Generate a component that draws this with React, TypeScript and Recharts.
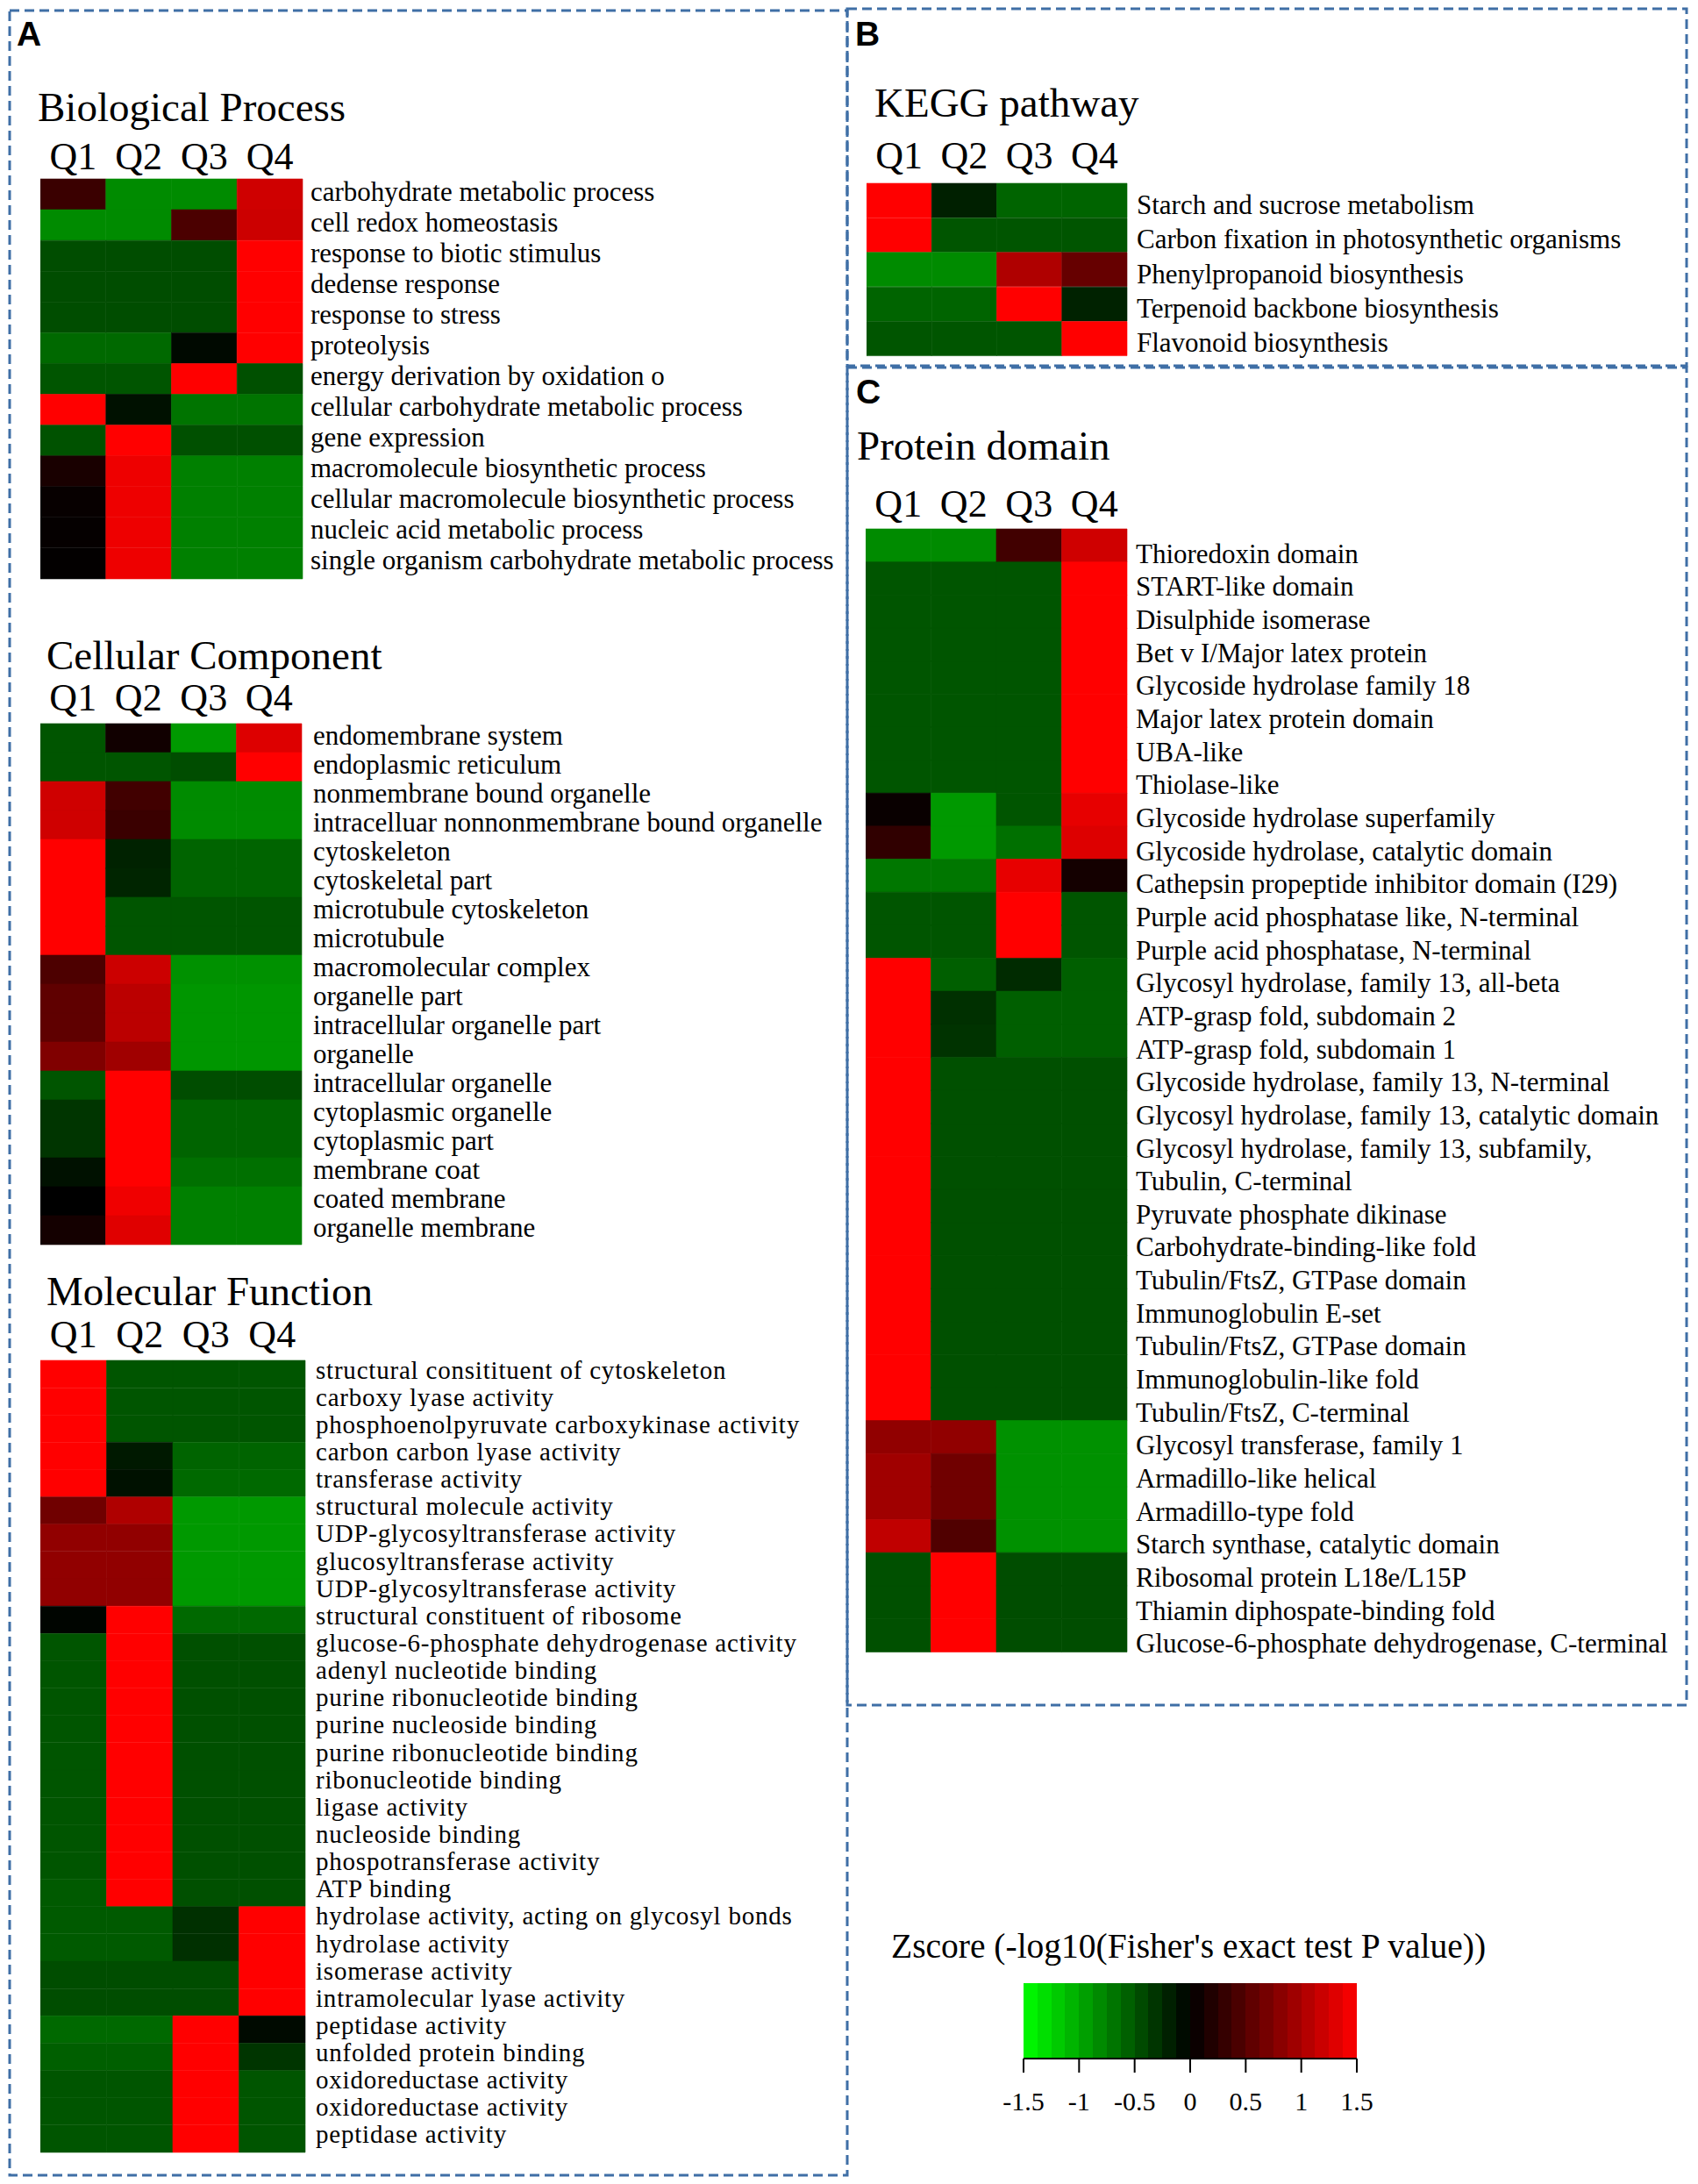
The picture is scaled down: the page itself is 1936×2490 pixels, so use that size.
import React from 'react';
import { BarChart, Bar, Cell, XAxis, YAxis, ComposedChart, Line, ReferenceArea } from 'recharts';

const quarters = ['Q1', 'Q2', 'Q3', 'Q4'];

const bpTerms = [
  'carbohydrate metabolic process',
  'cell redox homeostasis',
  'response to biotic stimulus',
  'dedense response',
  'response to stress',
  'proteolysis',
  'energy derivation by oxidation o',
  'cellular carbohydrate metabolic process',
  'gene expression',
  'macromolecule biosynthetic process',
  'cellular macromolecule biosynthetic process',
  'nucleic acid metabolic process',
  'single organism carbohydrate metabolic process',
];
const bpZ = [
  [0.34, -0.82, -0.82, 1.22],
  [-0.82, -0.82, 0.44, 1.2],
  [-0.45, -0.45, -0.45, 1.5],
  [-0.45, -0.45, -0.45, 1.5],
  [-0.45, -0.45, -0.45, 1.5],
  [-0.62, -0.62, -0.05, 1.5],
  [-0.5, -0.5, 1.5, -0.47],
  [1.5, -0.1, -0.68, -0.68],
  [-0.48, 1.5, -0.47, -0.47],
  [0.15, 1.4, -0.75, -0.75],
  [0.04, 1.4, -0.75, -0.75],
  [0.03, 1.4, -0.75, -0.75],
  [0.02, 1.4, -0.75, -0.75],
];

const ccTerms = [
  'endomembrane system',
  'endoplasmic reticulum',
  'nonmembrane bound organelle',
  'intracelluar nonnonmembrane bound organelle',
  'cytoskeleton',
  'cytoskeletal part',
  'microtubule cytoskeleton',
  'microtubule',
  'macromolecular complex',
  'organelle part',
  'intracellular organelle part',
  'organelle',
  'intracellular organelle',
  'cytoplasmic organelle',
  'cytoplasmic part',
  'membrane coat',
  'coated membrane',
  'organelle membrane',
];
const ccZ = [
  [-0.5, 0.1, -0.9, 1.3],
  [-0.5, -0.5, -0.45, 1.5],
  [1.22, 0.38, -0.82, -0.82],
  [1.22, 0.34, -0.82, -0.82],
  [1.5, -0.2, -0.59, -0.59],
  [1.5, -0.22, -0.59, -0.59],
  [1.5, -0.5, -0.5, -0.5],
  [1.5, -0.5, -0.5, -0.5],
  [0.45, 1.2, -0.85, -0.85],
  [0.56, 1.1, -0.88, -0.88],
  [0.56, 1.1, -0.88, -0.88],
  [0.75, 0.94, -0.88, -0.88],
  [-0.5, 1.5, -0.45, -0.45],
  [-0.31, 1.5, -0.59, -0.59],
  [-0.31, 1.5, -0.59, -0.59],
  [-0.1, 1.5, -0.66, -0.66],
  [0.0, 1.41, -0.75, -0.75],
  [0.12, 1.32, -0.75, -0.75],
];

const mfTerms = [
  'structural consitituent of cytoskeleton',
  'carboxy lyase activity',
  'phosphoenolpyruvate carboxykinase activity',
  'carbon carbon lyase activity',
  'transferase activity',
  'structural molecule activity',
  'UDP-glycosyltransferase activity',
  'glucosyltransferase activity',
  'UDP-glycosyltransferase activity',
  'structural constituent of ribosome',
  'glucose-6-phosphate dehydrogenase activity',
  'adenyl nucleotide binding',
  'purine ribonucleotide binding',
  'purine nucleoside binding',
  'purine ribonucleotide binding',
  'ribonucleotide binding',
  'ligase activity',
  'nucleoside binding',
  'phospotransferase activity',
  'ATP binding',
  'hydrolase activity, acting on glycosyl bonds',
  'hydrolase activity',
  'isomerase activity',
  'intramolecular lyase activity',
  'peptidase activity',
  'unfolded protein binding',
  'oxidoreductase activity',
  'oxidoreductase activity',
  'peptidase activity',
];
const mfZ = [
  [1.5, -0.5, -0.5, -0.5],
  [1.5, -0.5, -0.5, -0.5],
  [1.5, -0.5, -0.5, -0.5],
  [1.5, -0.15, -0.59, -0.59],
  [1.5, -0.1, -0.62, -0.62],
  [0.66, 1.03, -0.9, -0.9],
  [0.85, 0.85, -0.9, -0.9],
  [0.85, 0.85, -0.9, -0.9],
  [0.85, 0.85, -0.9, -0.9],
  [-0.03, 1.5, -0.62, -0.62],
  [-0.5, 1.5, -0.47, -0.47],
  [-0.5, 1.5, -0.47, -0.47],
  [-0.5, 1.5, -0.47, -0.47],
  [-0.5, 1.5, -0.47, -0.47],
  [-0.5, 1.5, -0.47, -0.47],
  [-0.5, 1.5, -0.47, -0.47],
  [-0.5, 1.5, -0.47, -0.47],
  [-0.5, 1.5, -0.47, -0.47],
  [-0.5, 1.5, -0.47, -0.47],
  [-0.53, 1.5, -0.47, -0.47],
  [-0.53, -0.53, -0.28, 1.5],
  [-0.53, -0.53, -0.28, 1.5],
  [-0.45, -0.45, -0.45, 1.5],
  [-0.45, -0.45, -0.45, 1.5],
  [-0.62, -0.62, 1.5, -0.06],
  [-0.56, -0.56, 1.5, -0.31],
  [-0.5, -0.5, 1.5, -0.5],
  [-0.5, -0.5, 1.5, -0.5],
  [-0.5, -0.5, 1.5, -0.5],
];

const keggTerms = [
  'Starch and sucrose metabolism',
  'Carbon fixation in photosynthetic organisms',
  'Phenylpropanoid biosynthesis',
  'Terpenoid backbone biosynthesis',
  'Flavonoid biosynthesis',
];
const keggZ = [
  [1.5, -0.19, -0.59, -0.59],
  [1.5, -0.5, -0.5, -0.5],
  [-0.82, -0.82, 1.03, 0.6],
  [-0.59, -0.59, 1.5, -0.2],
  [-0.5, -0.5, -0.5, 1.5],
];

const pdTerms = [
  'Thioredoxin domain',
  'START-like domain',
  'Disulphide isomerase',
  'Bet v I/Major latex protein',
  'Glycoside hydrolase family 18',
  'Major latex protein domain',
  'UBA-like',
  'Thiolase-like',
  'Glycoside hydrolase superfamily',
  'Glycoside hydrolase, catalytic domain',
  'Cathepsin propeptide inhibitor domain (I29)',
  'Purple acid phosphatase like, N-terminal',
  'Purple acid phosphatase, N-terminal',
  'Glycosyl hydrolase, family 13, all-beta',
  'ATP-grasp fold, subdomain 2',
  'ATP-grasp fold, subdomain 1',
  'Glycoside hydrolase, family 13, N-terminal',
  'Glycosyl hydrolase, family 13, catalytic domain',
  'Glycosyl hydrolase, family 13, subfamily,',
  'Tubulin, C-terminal',
  'Pyruvate phosphate dikinase',
  'Carbohydrate-binding-like fold',
  'Tubulin/FtsZ, GTPase domain',
  'Immunoglobulin E-set',
  'Tubulin/FtsZ, GTPase domain',
  'Immunoglobulin-like fold',
  'Tubulin/FtsZ, C-terminal',
  'Glycosyl transferase, family 1',
  'Armadillo-like helical',
  'Armadillo-type fold',
  'Starch synthase, catalytic domain',
  'Ribosomal protein L18e/L15P',
  'Thiamin diphospate-binding fold',
  'Glucose-6-phosphate dehydrogenase, C-terminal',
];
const pdZ = [
  [-0.82, -0.82, 0.38, 1.22],
  [-0.5, -0.5, -0.5, 1.5],
  [-0.5, -0.5, -0.5, 1.5],
  [-0.5, -0.5, -0.5, 1.5],
  [-0.5, -0.5, -0.5, 1.5],
  [-0.5, -0.5, -0.5, 1.5],
  [-0.5, -0.5, -0.5, 1.5],
  [-0.5, -0.5, -0.5, 1.5],
  [0.05, -0.9, -0.5, 1.36],
  [0.28, -0.9, -0.66, 1.3],
  [-0.7, -0.7, 1.36, 0.12],
  [-0.5, -0.5, 1.5, -0.5],
  [-0.5, -0.5, 1.5, -0.5],
  [1.5, -0.56, -0.25, -0.56],
  [1.5, -0.28, -0.56, -0.56],
  [1.5, -0.3, -0.56, -0.56],
  [1.5, -0.47, -0.47, -0.47],
  [1.5, -0.47, -0.47, -0.47],
  [1.5, -0.47, -0.47, -0.47],
  [1.5, -0.47, -0.47, -0.47],
  [1.5, -0.47, -0.47, -0.47],
  [1.5, -0.47, -0.47, -0.47],
  [1.5, -0.47, -0.47, -0.47],
  [1.5, -0.47, -0.47, -0.47],
  [1.5, -0.47, -0.47, -0.47],
  [1.5, -0.47, -0.47, -0.47],
  [1.5, -0.47, -0.47, -0.47],
  [0.85, 0.85, -0.85, -0.85],
  [0.94, 0.66, -0.85, -0.85],
  [0.94, 0.66, -0.85, -0.85],
  [1.13, 0.47, -0.85, -0.85],
  [-0.47, 1.5, -0.45, -0.45],
  [-0.47, 1.5, -0.45, -0.45],
  [-0.47, 1.5, -0.45, -0.45],
];

const legendTicks = [-1.5, -1, -0.5, 0, 0.5, 1, 1.5];

const SERIF = '"Liberation Serif", "Times New Roman", serif';
const SANS = '"Liberation Sans", Arial, sans-serif';
const BORDER = '#3f6fa6';
const AXIS_H = 60;
const PAD_B = 30;

// green (-1.5) -> black (0) -> red (+1.5)
const zColor = (v: number) => {
  const t = Math.max(-1, Math.min(1, v / 1.5));
  const c = Math.round(Math.abs(t) * 255);
  return t >= 0 ? `rgb(${c},0,0)` : `rgb(0,${c},0)`;
};

interface HeatmapProps {
  left: number;
  top: number;
  heatW: number;
  rowH: number;
  labelW: number;
  terms: string[];
  z: number[][];
  fontSize: number;
  letterSpacing?: number;
  labelGap: number;
  baseDy: number;
  qGap: number;
}

const Heatmap: React.FC<HeatmapProps> = ({
  left, top, heatW, rowH, labelW, terms, z, fontSize, letterSpacing = 0, labelGap, baseDy, qGap,
}) => {
  const data = terms.map((_, i) => ({ id: i, Q1: 1, Q2: 1, Q3: 1, Q4: 1 }));
  return (
    <div style={{ position: 'absolute', left, top: top - AXIS_H }}>
      <BarChart
        layout="vertical"
        width={heatW + labelW}
        height={AXIS_H + terms.length * rowH + PAD_B}
        data={data}
        margin={{ top: 0, right: 0, bottom: PAD_B, left: 0 }}
        barCategoryGap={0}
        barGap={0}
      >
        <XAxis
          type="number"
          orientation="top"
          domain={[0, 4]}
          ticks={[0.5, 1.5, 2.5, 3.5]}
          height={AXIS_H}
          axisLine={false}
          tickLine={false}
          tickSize={0}
          tickMargin={0}
          interval={0}
          tick={(p: any) => (
            <text x={p.x} y={p.y - qGap} textAnchor="middle" fontFamily={SERIF} fontSize={44} fill="#000">
              {quarters[Math.floor(p.payload.value)]}
            </text>
          )}
        />
        <YAxis
          type="category"
          dataKey="id"
          orientation="right"
          width={labelW}
          axisLine={false}
          tickLine={false}
          tickSize={0}
          tickMargin={labelGap}
          interval={0}
          tick={(p: any) => (
            <text
              x={p.x}
              y={p.y + baseDy}
              textAnchor="start"
              fontFamily={SERIF}
              fontSize={fontSize}
              letterSpacing={letterSpacing}
              fill="#000"
            >
              {terms[p.payload.value]}
            </text>
          )}
        />
        {quarters.map((q, qi) => (
          <Bar key={q} dataKey={q} stackId="hm" isAnimationActive={false}>
            {z.map((row, ri) => (
              <Cell key={ri} fill={zColor(row[qi])} stroke={zColor(row[qi])} strokeWidth={0.6} />
            ))}
          </Bar>
        ))}
      </BarChart>
    </div>
  );
};

const BANDS = 24;

const ZLegend: React.FC = () => {
  const data = legendTicks.map((t) => ({ t, y: 0 }));
  const stops: React.ReactNode[] = [];
  for (let k = 0; k < BANDS; k++) {
    const col = zColor(-1.5 + ((k + 0.5) * 3) / BANDS);
    stops.push(<stop key={`a${k}`} offset={k / BANDS} stopColor={col} />);
    stops.push(<stop key={`b${k}`} offset={(k + 1) / BANDS} stopColor={col} />);
  }
  return (
    <div style={{ position: 'absolute', left: 1167 - 40, top: 2261 }}>
      <ComposedChart width={380 + 80} height={86 + 80} data={data} margin={{ top: 0, right: 40, bottom: 0, left: 40 }}>
        <defs>
          <linearGradient id="zgrad" x1="0" y1="0" x2="1" y2="0">
            {stops}
          </linearGradient>
        </defs>
        <XAxis
          type="number"
          dataKey="t"
          domain={[-1.5, 1.5]}
          ticks={legendTicks}
          height={80}
          interval={0}
          axisLine={{ stroke: '#000', strokeWidth: 2 }}
          tickLine={{ stroke: '#000', strokeWidth: 2 }}
          tickSize={16}
          tickMargin={0}
          tick={(p: any) => (
            <text x={p.x} y={p.y + 43} textAnchor="middle" fontFamily={SERIF} fontSize={30} fill="#000">
              {String(p.payload.value)}
            </text>
          )}
        />
        <YAxis hide domain={[0, 1]} />
        <ReferenceArea x1={-1.5} x2={1.5} y1={0} y2={1} fill="url(#zgrad)" fillOpacity={1} stroke="none" />
        <Line dataKey="y" stroke="none" dot={false} isAnimationActive={false} />
      </ComposedChart>
    </div>
  );
};

const App: React.FC = () => (
  <div style={{ position: 'absolute', left: 0, top: 0, width: 1936, height: 2490, background: '#fff' }}>
    <svg width={1936} height={2490} style={{ position: 'absolute', left: 0, top: 0 }}>
      <g fill="none" stroke={BORDER} strokeWidth={3} strokeDasharray="11 6">
        <rect x={11} y={12} width={955} height={2468} />
        <rect x={966} y={10} width={957} height={407} />
        <rect x={966} y={419} width={957} height={1525} />
      </g>
      <g fontFamily={SANS} fontWeight="bold" fontSize={39} fill="#000">
        <text x={19} y={52}>A</text>
        <text x={975} y={52}>B</text>
        <text x={976} y={460}>C</text>
      </g>
      <g fontFamily={SERIF} fontSize={47} fill="#000">
        <text x={43} y={138}>Biological Process</text>
        <text x={53} y={763}>Cellular Component</text>
        <text x={53} y={1488}>Molecular Function</text>
        <text x={997} y={133}>KEGG pathway</text>
        <text x={977} y={524}>Protein domain</text>
      </g>
      <text x={1016} y={2232} fontFamily={SERIF} fontSize={39.5} fill="#000">
        Zscore (-log10(Fisher's exact test P value))
      </text>
    </svg>
    <Heatmap left={46} top={204} heatW={299} rowH={35.08} labelW={640} terms={bpTerms} z={bpZ}
      fontSize={31} labelGap={9} baseDy={7} qGap={11} />
    <Heatmap left={46} top={825} heatW={298} rowH={33} labelW={620} terms={ccTerms} z={ccZ}
      fontSize={31} labelGap={13} baseDy={7} qGap={15} />
    <Heatmap left={46} top={1551} heatW={302} rowH={31.14} labelW={600} terms={mfTerms} z={mfZ}
      fontSize={29} letterSpacing={0.8} labelGap={12} baseDy={5} qGap={15} />
    <Heatmap left={988} top={209} heatW={297} rowH={39.4} labelW={630} terms={keggTerms} z={keggZ}
      fontSize={31} labelGap={11} baseDy={15} qGap={17} />
    <Heatmap left={987} top={603} heatW={298} rowH={37.65} labelW={635} terms={pdTerms} z={pdZ}
      fontSize={31} labelGap={10} baseDy={20} qGap={14} />
    <ZLegend />
  </div>
);

export default App;
